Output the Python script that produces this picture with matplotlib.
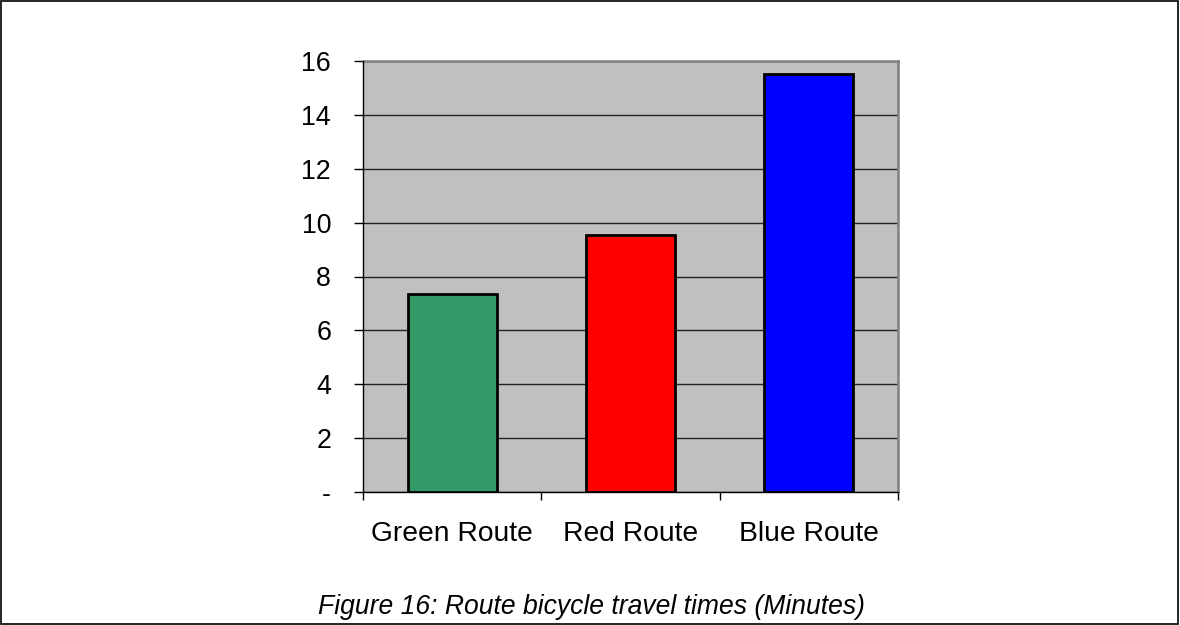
import matplotlib
matplotlib.use("Agg")
import matplotlib.pyplot as plt
from matplotlib.patches import Rectangle
from matplotlib.ticker import FuncFormatter, FixedLocator

routes = ["Green Route", "Red Route", "Blue Route"]
minutes = [7.35, 9.55, 15.5]
bar_colors = ["#339966", "#ff0000", "#0000ff"]
y_ticks = [0, 2, 4, 6, 8, 10, 12, 14, 16]
caption = "Figure 16: Route bicycle travel times (Minutes)"

plt.rcParams["font.family"] = ["Liberation Sans", "DejaVu Sans"]

fig = plt.figure(figsize=(11.8, 6.25), dpi=100)
ax = fig.add_axes([363 / 1180, 1 - 492 / 625, 535 / 1180, 431 / 625])
ax.set_facecolor("#c0c0c0")

x = list(range(len(routes)))
ax.bar(x, minutes, width=0.5, color=bar_colors, edgecolor="black",
       linewidth=2.0, zorder=3)

ax.set_xlim(-0.5, len(routes) - 0.5)
ax.set_ylim(0, 16)
ax.yaxis.set_major_locator(FixedLocator(y_ticks))
ax.yaxis.set_major_formatter(FuncFormatter(lambda v, p: "-" if v == 0 else f"{v:g}"))
ax.grid(axis="y", color="#222222", linewidth=1.0, zorder=1)

# category labels sit between boundary ticks
ax.set_xticks([i - 0.5 for i in range(len(routes) + 1)])
ax.set_xticklabels([])
ax.set_xticks(x, minor=True)
ax.set_xticklabels(routes, minor=True, fontsize=20.3)
ax.tick_params(axis="x", which="minor", length=0, pad=21)
ax.tick_params(axis="x", which="major", length=6, width=1, color="black", direction="out")
ax.tick_params(axis="y", length=6.5, width=1, color="black", direction="out",
               labelsize=19.3, pad=16.5)

for side in ("top", "right"):
    ax.spines[side].set_color("#808080")
    ax.spines[side].set_linewidth(1.8)
for side in ("left", "bottom"):
    ax.spines[side].set_color("black")
    ax.spines[side].set_linewidth(1.0)
    ax.spines[side].set_zorder(4)

fig.text(591 / 1180, 1 - 607 / 625, caption, ha="center", va="center",
         fontsize=19.1, style="italic")

fig.patches.append(Rectangle((0.001, 0.002), 0.997, 0.996, transform=fig.transFigure,
                             fill=False, edgecolor="black", linewidth=1.2))

fig.savefig("out.png", dpi=100)
